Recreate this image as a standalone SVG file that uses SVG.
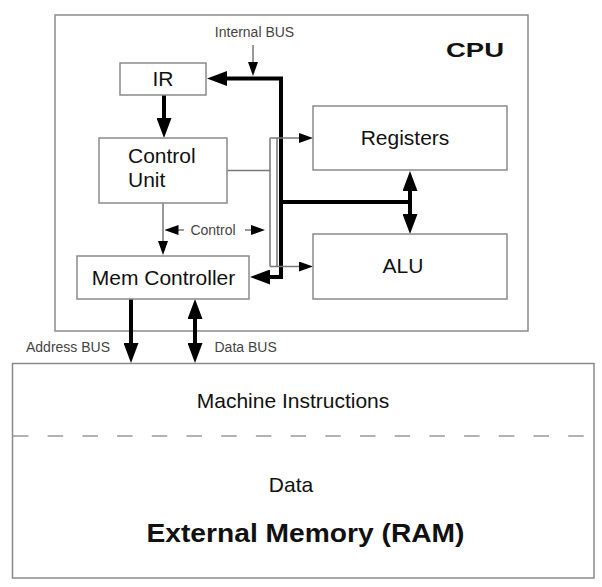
<svg xmlns="http://www.w3.org/2000/svg" width="602" height="587" viewBox="0 0 602 587">
<defs>
<style>
.box{fill:#fff;stroke:#8a8a8a;stroke-width:1.5}
.lbl{font-family:"Liberation Sans",Arial,sans-serif;font-size:21px;fill:#111}
.sm{font-family:"Liberation Sans",Arial,sans-serif;font-size:14px;fill:#444}
.bold{font-family:"Liberation Sans",Arial,sans-serif;font-weight:bold;fill:#111}
.thick{fill:none;stroke:#000;stroke-width:4;stroke-linejoin:miter}
.thin{fill:none;stroke:#777;stroke-width:1.5}
</style>
<marker id="ah" markerUnits="userSpaceOnUse" markerWidth="20" markerHeight="15" refX="2" refY="7.5" orient="auto-start-reverse" viewBox="0 0 20 15">
<path d="M0,0 L20,7.5 L0,15 z" fill="#000"/>
</marker>
<marker id="as" markerUnits="userSpaceOnUse" markerWidth="14" markerHeight="10" refX="2" refY="5" orient="auto-start-reverse" viewBox="0 0 14 10">
<path d="M0,0 L14,5 L0,10 z" fill="#000"/>
</marker>
</defs>
<rect width="602" height="587" fill="#fff"/>

<g id="cpu">
<rect class="box" x="55" y="15" width="473" height="316"/>
<text class="bold" x="446" y="57" font-size="21" textLength="58" lengthAdjust="spacingAndGlyphs">CPU</text>
</g>

<g id="memory">
<rect class="box" x="12.5" y="363.5" width="581.5" height="214.5"/>
<line x1="13" y1="436" x2="594" y2="436" stroke="#999" stroke-width="1.5" stroke-dasharray="15.5 19.2"/>
<text class="lbl" x="293" y="408" text-anchor="middle">Machine Instructions</text>
<text class="lbl" x="291" y="491.5" text-anchor="middle">Data</text>
<text class="bold" x="146.5" y="542" font-size="26" textLength="318" lengthAdjust="spacingAndGlyphs">External Memory (RAM)</text>
</g>

<g id="connectors">
<path class="thick" d="M268,277 H281 V78.5 H225" marker-start="url(#ah)" marker-end="url(#ah)"/>
<path class="thick" d="M281,202 H410"/>
<path class="thick" d="M410,189 V216" marker-start="url(#ah)" marker-end="url(#ah)"/>
<path class="thick" d="M164,95 V120" marker-end="url(#ah)"/>
<path class="thick" d="M131,299 V345" marker-end="url(#ah)"/>
<path class="thick" d="M195,317 V345" marker-start="url(#ah)" marker-end="url(#ah)"/>
<path class="thin" d="M253,45 V64" marker-end="url(#as)"/>
<path class="thin" d="M163,203 V243" marker-end="url(#as)"/>
<path class="thin" d="M184,230 H176.5" marker-end="url(#as)"/>
<path class="thin" d="M245,230 H253" marker-end="url(#as)"/>
<path class="thin" d="M227,170.5 H270"/>
<path class="thin" d="M270,138 V266.5"/>
<path class="thin" d="M277,138 V266.5"/>
<path class="thin" d="M270,138 H301" marker-end="url(#as)"/>
<path class="thin" d="M270,266.5 H301" marker-end="url(#as)"/>
<text class="sm" x="254.5" y="37" text-anchor="middle">Internal BUS</text>
<text class="sm" x="213" y="235" text-anchor="middle">Control</text>
<text class="sm" x="26" y="352">Address BUS</text>
<text class="sm" x="214.5" y="352">Data BUS</text>
</g>

<g id="ir">
<rect class="box" x="120" y="63" width="86" height="32"/>
<text class="lbl" x="163" y="86" text-anchor="middle">IR</text>
</g>

<g id="control-unit">
<rect class="box" x="99" y="138" width="128" height="65"/>
<text class="lbl" x="128" y="163">Control</text>
<text class="lbl" x="128" y="187">Unit</text>
</g>

<g id="registers">
<rect class="box" x="313" y="106" width="194" height="64"/>
<text class="lbl" x="405" y="144.5" text-anchor="middle">Registers</text>
</g>

<g id="alu">
<rect class="box" x="313" y="234" width="194" height="65"/>
<text class="lbl" x="403" y="272.5" text-anchor="middle">ALU</text>
</g>

<g id="mem-controller">
<rect class="box" x="77" y="256" width="172" height="43"/>
<text class="lbl" x="163.5" y="285" text-anchor="middle">Mem Controller</text>
</g>
</svg>
